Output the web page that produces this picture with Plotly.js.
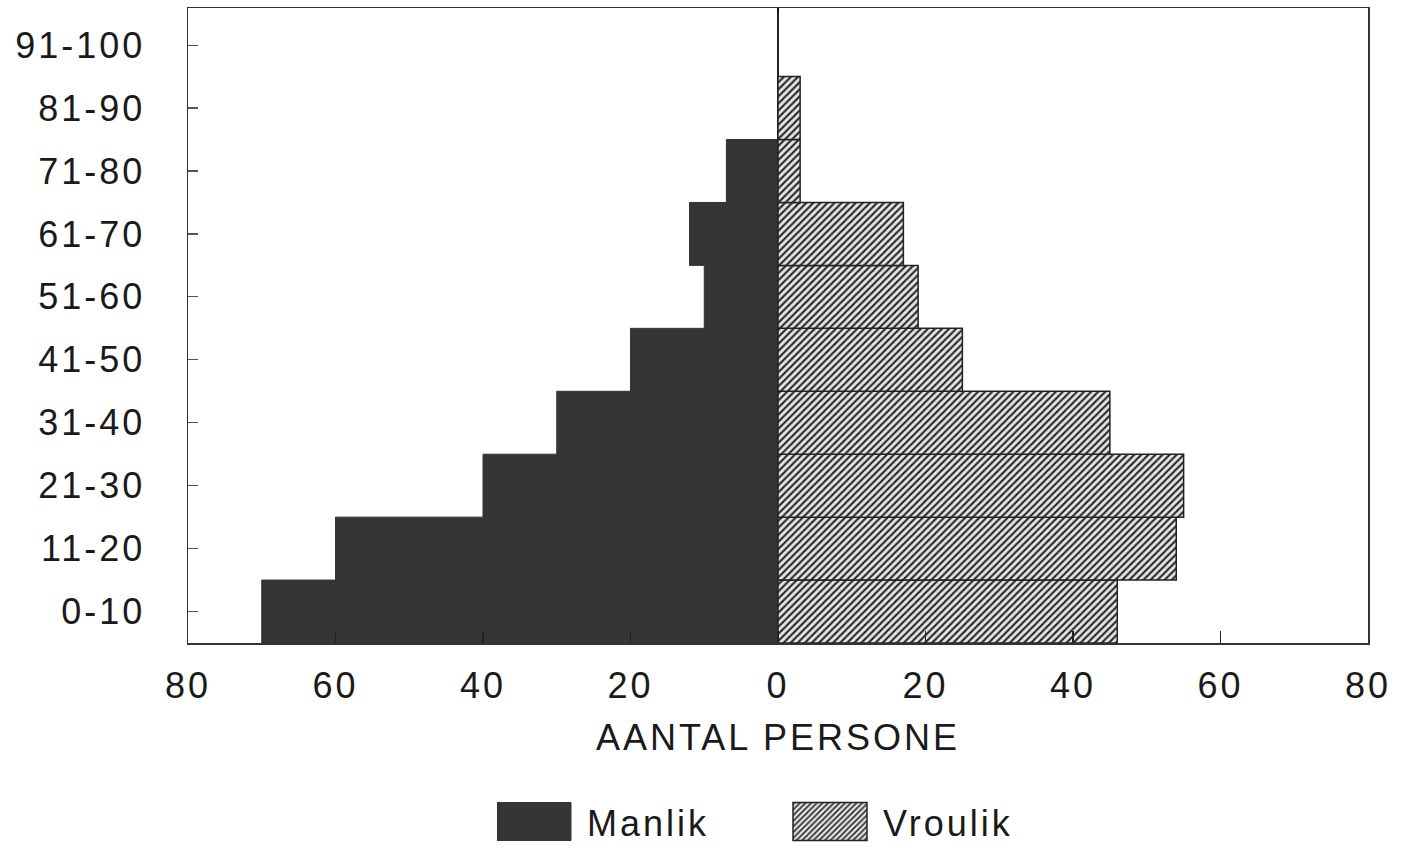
<!DOCTYPE html>
<html>
<head>
<meta charset="utf-8">
<script src="https://cdn.plot.ly/plotly-3.0.1.min.js"></script>
<style>
html,body{margin:0;padding:0;background:#fff;}
#chart{width:1401px;height:847px;}
#chart text{letter-spacing:3px;}
</style>
</head>
<body>
<div id="chart"></div>
<script>
// Age groups (bottom to top)
const ageGroups = ['0-10','11-20','21-30','31-40','41-50','51-60','61-70','71-80','81-90','91-100'];
// Number of persons
const manlik  = [70, 60, 40, 30, 20, 10, 12, 7, 0, 0];
const vroulik = [46, 54, 55, 45, 25, 19, 17, 3, 3, 0];
// Axis tick values / labels
const xTickVals = [-80, -60, -40, -20, 0, 20, 40, 60, 80];
const xTickText = ['80', '60', '40', '20', '0', '20', '40', '60', '80'];

const FONT = 'Liberation Sans, Arial, Helvetica, sans-serif';

const traces = [
  {
    type: 'bar', orientation: 'h', name: 'Manlik',
    y: ageGroups, x: manlik.map(v => -v),
    marker: { color: '#353535', line: { color: '#353535', width: 1 } },
    hoverinfo: 'skip'
  },
  {
    type: 'bar', orientation: 'h', name: 'Vroulik',
    y: ageGroups, x: vroulik,
    marker: {
      color: '#ececec',
      line: { color: '#222', width: 1.5 },
      pattern: { shape: '/', fgcolor: '#2a2a2a', bgcolor: '#e6e6e6', size: 5, solidity: 0.42 }
    },
    hoverinfo: 'skip'
  }
];

const layout = {
  width: 1401, height: 847,
  margin: { l: 188, r: 33, t: 8, b: 204, autoexpand: false },
  paper_bgcolor: '#fff', plot_bgcolor: '#fff',
  barmode: 'relative', bargap: 0,
  font: { family: FONT, size: 36, color: '#1a1a1a' },
  showlegend: true,
  legend: {
    orientation: 'h', x: 0.5127, xanchor: 'center',
    yref: 'container', y: 0.03, yanchor: 'middle',
    font: { family: FONT, size: 36, color: '#1a1a1a' },
    itemwidth: 80, entrywidth: 201, traceorder: 'normal',
    itemclick: false, itemdoubleclick: false
  },
  xaxis: {
    range: [-80, 80], tickvals: xTickVals, ticktext: xTickText,
    ticks: 'inside', ticklen: 12, tickwidth: 1.5, tickcolor: '#222',
    showgrid: false, zeroline: true, zerolinecolor: '#111', zerolinewidth: 1.5,
    showline: true, linecolor: '#333', linewidth: 1.5, mirror: true,
    ticklabelstandoff: 10,
    tickfont: { family: FONT, size: 36, color: '#1a1a1a' },
    title: { text: 'AANTAL PERSONE', font: { family: FONT, size: 36, color: '#1a1a1a' }, standoff: 20 },
    fixedrange: true
  },
  yaxis: {
    type: 'category', categoryorder: 'array', categoryarray: ageGroups,
    range: [-0.5, 9.59],
    ticks: 'inside', ticklen: 10, tickwidth: 1.2, tickcolor: '#555',
    showgrid: false, zeroline: false,
    showline: true, linecolor: '#333', linewidth: 1.5, mirror: true,
    ticklabelstandoff: 34,
    tickfont: { family: FONT, size: 36, color: '#1a1a1a' },
    fixedrange: true
  }
};

function enlargeLegendSwatches(gd) {
  gd.querySelectorAll('.legend .legendpoints path').forEach(p => {
    p.setAttribute('d', 'M29,19H-45V-19H29Z');
  });
}

Plotly.newPlot('chart', traces, layout, { displayModeBar: false, staticPlot: true }).then(gd => {
  enlargeLegendSwatches(gd);
  setTimeout(() => enlargeLegendSwatches(gd), 50);
});
</script>
</body>
</html>
